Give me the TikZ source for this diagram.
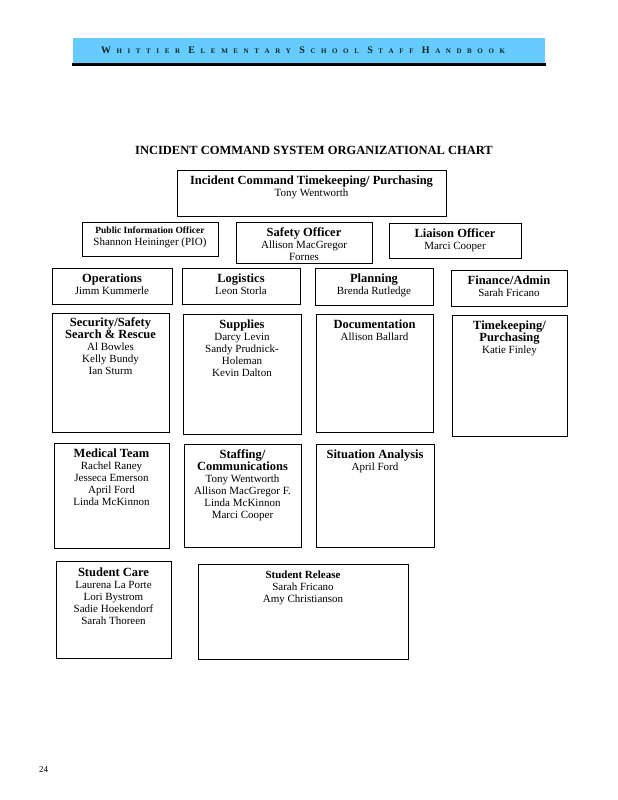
\documentclass[tikz,border=0pt]{standalone}
\usepackage{fontspec}
\setmainfont{Liberation Serif}
\definecolor{bannerblue}{RGB}{102,204,255}
\definecolor{bannertext}{RGB}{15,35,35}
\newcommand\ltr[1]{\hfill\hfill{\fontsize{7}{8}\selectfont #1}}
\newcommand\wgap{\hfill\hfill\hfill}
\newcommand\bt[1]{{\bfseries\fontsize{12.5}{12}\selectfont #1}}
\begin{document}
\begin{tikzpicture}[x=1pt,y=-1pt,
  box/.style={draw=black,line width=0.8pt,inner sep=0pt,fill=white},
  lbl/.style={anchor=north,align=center,inner sep=0pt,yshift=-6pt,
    font=\fontsize{11}{12}\selectfont}]
\useasboundingbox (0,0) rectangle (618,800);
% banner
\fill[bannerblue] (73,38) rectangle (545,63);
\draw[line width=2.5pt] (72,64.5) -- (546,64.5);
\node[inner sep=0pt,text=bannertext,font=\bfseries\fontsize{10}{12}\selectfont] (banner) at (303,50)
 {\makebox[404pt][s]{W\ltr{H}\ltr{I}\ltr{T}\ltr{T}\ltr{I}\ltr{E}\ltr{R}\wgap
 E\ltr{L}\ltr{E}\ltr{M}\ltr{E}\ltr{N}\ltr{T}\ltr{A}\ltr{R}\ltr{Y}\wgap
 S\ltr{C}\ltr{H}\ltr{O}\ltr{O}\ltr{L}\wgap
 S\ltr{T}\ltr{A}\ltr{F}\ltr{F}\wgap
 H\ltr{A}\ltr{N}\ltr{D}\ltr{B}\ltr{O}\ltr{O}\ltr{K}}};
% title
\node[inner sep=0pt,font=\bfseries\fontsize{12.5}{14}\selectfont] (title) at (314,150)
 {INCIDENT COMMAND SYSTEM ORGANIZATIONAL CHART};
% boxes
\node[box,minimum width=269pt,minimum height=46pt,
 label={[lbl]north:{\bt{Incident Command Timekeeping/ Purchasing}\\Tony Wentworth}}]
 (ic) at (311.5,193) {};
\node[box,minimum width=136pt,minimum height=34pt,
 label={[lbl,yshift=1pt]north:{{\bfseries\fontsize{9.5}{12}\selectfont Public Information Officer}\\Shannon Heininger (PIO)}}]
 (pio) at (150,239) {};
\node[box,minimum width=136pt,minimum height=41pt,
 label={[lbl]north:{\bt{Safety Officer}\\Allison MacGregor\\Fornes}}]
 (safety) at (304,242.5) {};
\node[box,minimum width=132pt,minimum height=35pt,
 label={[lbl]north:{\bt{Liaison Officer}\\Marci Cooper}}]
 (liaison) at (455,240.5) {};
\node[box,minimum width=120pt,minimum height=36pt,
 label={[lbl]north:{\bt{Operations}\\Jimm Kummerle}}]
 (ops) at (112,286) {};
\node[box,minimum width=118pt,minimum height=36pt,
 label={[lbl]north:{\bt{Logistics}\\Leon Storla}}]
 (log) at (241,286) {};
\node[box,minimum width=118pt,minimum height=37pt,
 label={[lbl]north:{\bt{Planning}\\Brenda Rutledge}}]
 (plan) at (374,286.5) {};
\node[box,minimum width=116pt,minimum height=36pt,
 label={[lbl]north:{\bt{Finance/Admin}\\Sarah Fricano}}]
 (fin) at (509,288) {};
\node[box,minimum width=117pt,minimum height=119pt,
 label={[lbl,yshift=1.5pt]north:{\bt{Security/Safety}\\\bt{Search \& Rescue}\\Al Bowles\\Kelly Bundy\\Ian Sturm}}]
 (sec) at (110.5,372.5) {};
\node[box,minimum width=118pt,minimum height=120pt,
 label={[lbl]north:{\bt{Supplies}\\Darcy Levin\\Sandy Prudnick-\\Holeman\\Kevin Dalton}}]
 (sup) at (242,374) {};
\node[box,minimum width=117pt,minimum height=118pt,
 label={[lbl]north:{\bt{Documentation}\\Allison Ballard}}]
 (doc) at (374.5,373) {};
\node[box,minimum width=115pt,minimum height=121pt,
 label={[lbl]north:{\bt{Timekeeping/}\\\bt{Purchasing}\\Katie Finley}}]
 (tk) at (509.5,375.5) {};
\node[box,minimum width=115pt,minimum height=105pt,
 label={[lbl]north:{\bt{Medical Team}\\Rachel Raney\\Jesseca Emerson\\April Ford\\Linda McKinnon}}]
 (med) at (111.5,495.5) {};
\node[box,minimum width=117pt,minimum height=103pt,
 label={[lbl]north:{\bt{Staffing/}\\\bt{Communications}\\Tony Wentworth\\Allison MacGregor F.\\Linda McKinnon\\Marci Cooper}}]
 (staff) at (242.5,495.5) {};
\node[box,minimum width=118pt,minimum height=103pt,
 label={[lbl]north:{\bt{Situation Analysis}\\April Ford}}]
 (sit) at (375,495.5) {};
\node[box,minimum width=115pt,minimum height=97pt,
 label={[lbl,yshift=-1pt]north:{\bt{Student Care}\\Laurena La Porte\\Lori Bystrom\\Sadie Hoekendorf\\Sarah Thoreen}}]
 (care) at (113.5,609.5) {};
\node[box,minimum width=210pt,minimum height=95pt,
 label={[lbl,yshift=-1pt]north:{{\bfseries\fontsize{11}{12}\selectfont Student Release}\\Sarah Fricano\\Amy Christianson}}]
 (rel) at (303,611.5) {};
% page number
\node[inner sep=0pt,anchor=west,font=\fontsize{9}{10}\selectfont] (pagenum) at (39,770) {24};
\end{tikzpicture}
\end{document}
